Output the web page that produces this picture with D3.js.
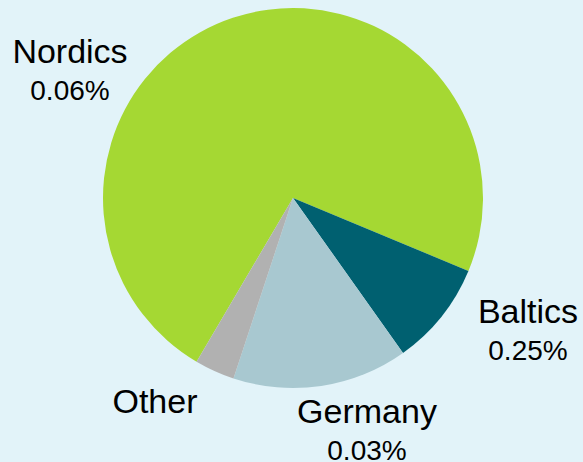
<!DOCTYPE html>
<html>
<head>
<meta charset="utf-8">
<script src="https://cdn.jsdelivr.net/npm/d3@7"></script>
<style>
  html, body { margin: 0; padding: 0; background: #e2f3f9; }
  svg { display: block; }
</style>
</head>
<body>
<svg id="chart" width="583" height="462"></svg>
<script>
// Regional shares (percent of total) and the change shown under each name
const regions = ["Nordics", "Baltics", "Germany", "Other"];
const shares = [72.8, 8.9, 14.9, 3.4];
const changeLabels = ["0.06%", "0.25%", "0.03%", ""];
const colors = ["#a5d833", "#006070", "#a8c8d0", "#b1b1b1"];

// Label anchors (centre of the text block) for each region
const labelAnchors = [
  { x: 70, y: 63 },
  { x: 528, y: 323 },
  { x: 367, y: 423 },
  { x: 155, y: 413 }
];

const width = 583, height = 462;
const cx = 293, cy = 198, radius = 190;

const svg = d3.select("#chart");
svg.append("rect").attr("width", width).attr("height", height).attr("fill", "#e2f3f9");

const data = regions.map((name, i) => ({ name, value: shares[i], change: changeLabels[i], color: colors[i] }));

const start = 210.5 * Math.PI / 180;
const pie = d3.pie()
  .value(d => d.value)
  .sort(null)
  .startAngle(start)
  .endAngle(start + 2 * Math.PI);

const arc = d3.arc().innerRadius(0).outerRadius(radius);

const g = svg.append("g").attr("transform", `translate(${cx},${cy})`);
g.selectAll("path")
  .data(pie(data))
  .join("path")
  .attr("d", arc)
  .attr("fill", d => d.data.color);

const labels = svg.append("g")
  .attr("font-family", "'Liberation Sans', Arial, sans-serif")
  .attr("fill", "#000")
  .attr("text-anchor", "middle");

data.forEach((d, i) => {
  const a = labelAnchors[i];
  labels.append("text")
    .attr("x", a.x).attr("y", a.y)
    .attr("font-size", 34)
    .text(d.name);
  if (d.change) {
    labels.append("text")
      .attr("x", a.x).attr("y", a.y + 37)
      .attr("font-size", 28)
      .text(d.change);
  }
});
</script>
</body>
</html>
